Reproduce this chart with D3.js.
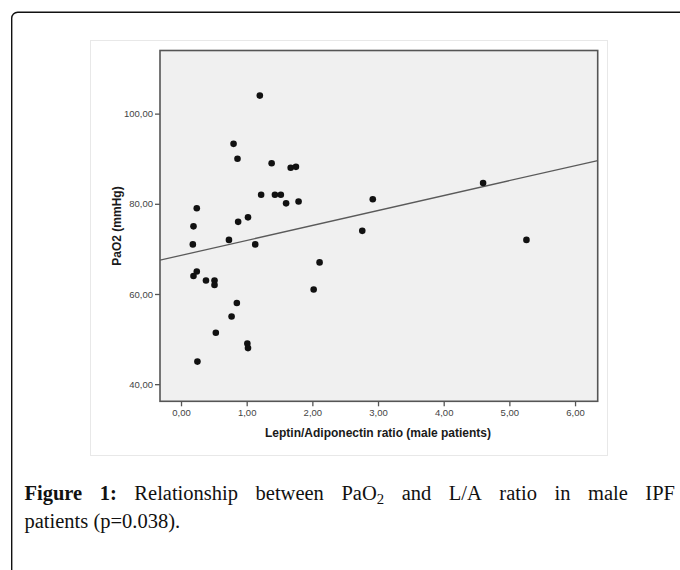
<!DOCTYPE html>
<html>
<head>
<meta charset="utf-8">
<script src="https://cdn.jsdelivr.net/npm/d3@7"></script>
<style>
  html, body { margin: 0; padding: 0; background: #fff; }
  svg { display: block; }
</style>
</head>
<body>
<script>
// ---- Data ----
const ratioLA = [1.20, 0.80, 0.86, 1.38, 1.67, 1.75, 4.60, 1.22, 1.43, 1.52, 1.60, 1.79, 2.92, 0.24, 0.19, 1.02, 0.87, 2.76, 0.18, 0.73, 1.13, 5.26, 2.11, 0.24, 0.19, 0.38, 0.51, 0.51, 2.02, 0.85, 0.77, 0.53, 1.01, 1.02, 0.25];
const paO2    = [104.0, 93.3, 90.0, 89.0, 88.0, 88.2, 84.6, 82.0, 82.0, 82.0, 80.1, 80.5, 81.0, 79.0, 75.0, 77.0, 76.0, 74.0, 71.0, 72.0, 71.0, 72.0, 67.0, 65.0, 64.0, 63.0, 63.0, 62.0, 61.0, 58.0, 55.0, 51.4, 49.0, 48.0, 45.0];
const fitLine = [68.56, 3.316]; // intercept, slope of the fitted line
const xTicks = [0, 1, 2, 3, 4, 5, 6];
const yTicks = [40, 60, 80, 100];
const xTitle = "Leptin/Adiponectin ratio (male patients)";
const yTitle = "PaO2 (mmHg)";
const captionLine1 = ["Relationship", "between", "PaO|2", "and", "L/A", "ratio", "in", "male", "IPF"];
const captionLine2 = "patients (p=0.038).";

// ---- Layout ----
const W = 680, H = 570;
const plot = { left: 160, top: 50.5, right: 597.7, bottom: 401.3 };

const svg = d3.select("body").append("svg").attr("width", W).attr("height", H);

// outer frame (rounded, open to right/bottom)
svg.append("rect")
  .attr("x", 11.7).attr("y", 12.3)
  .attr("width", 720).attr("height", 620)
  .attr("rx", 6).attr("ry", 6)
  .attr("fill", "none").attr("stroke", "#111").attr("stroke-width", 1.4);

// figure panel
svg.append("rect")
  .attr("x", 90.5).attr("y", 40.5).attr("width", 517).attr("height", 415)
  .attr("fill", "#fff").attr("stroke", "#e8e8e8").attr("stroke-width", 1);

const x = d3.scaleLinear().domain([-0.32, 6.345]).range([plot.left, plot.right]);
const y = d3.scaleLinear().domain([36.2, 114]).range([plot.bottom, plot.top]);

// plot background
svg.append("rect")
  .attr("x", plot.left).attr("y", plot.top)
  .attr("width", plot.right - plot.left).attr("height", plot.bottom - plot.top)
  .attr("fill", "#f0f0f0");

const fmt = d => d3.format(".2f")(d).replace(".", ",");

// axes
const gx = svg.append("g").attr("transform", `translate(0,${plot.bottom})`)
  .call(d3.axisBottom(x).tickValues(xTicks).tickFormat(fmt).tickSize(5).tickPadding(3));
const gy = svg.append("g").attr("transform", `translate(${plot.left},0)`)
  .call(d3.axisLeft(y).tickValues(yTicks).tickFormat(fmt).tickSize(5).tickPadding(2));
[gx, gy].forEach(g => {
  g.select(".domain").remove();
  g.selectAll(".tick line").attr("stroke", "#555").attr("stroke-width", 1.3);
  g.selectAll(".tick text")
    .attr("fill", "#444")
    .style("font-family", "'Liberation Sans', Arial, sans-serif")
    .style("font-size", "9.5px");
});

// regression line
const clipId = "plotclip";
svg.append("clipPath").attr("id", clipId).append("rect")
  .attr("x", plot.left).attr("y", plot.top)
  .attr("width", plot.right - plot.left).attr("height", plot.bottom - plot.top);
const xd = x.domain();
svg.append("line")
  .attr("clip-path", `url(#${clipId})`)
  .attr("x1", x(xd[0])).attr("y1", y(fitLine[0] + fitLine[1] * xd[0]))
  .attr("x2", x(xd[1])).attr("y2", y(fitLine[0] + fitLine[1] * xd[1]))
  .attr("stroke", "#5a5a5a").attr("stroke-width", 1.3);

// points
svg.append("g").selectAll("circle")
  .data(ratioLA.map((v, i) => [v, paO2[i]]))
  .join("circle")
  .attr("cx", d => x(d[0])).attr("cy", d => y(d[1]))
  .attr("r", 3.3).attr("fill", "#111");

// plot border
svg.append("rect")
  .attr("x", plot.left).attr("y", plot.top)
  .attr("width", plot.right - plot.left).attr("height", plot.bottom - plot.top)
  .attr("fill", "none").attr("stroke", "#555").attr("stroke-width", 1.6);

// axis titles
svg.append("text")
  .attr("x", 378).attr("y", 437)
  .attr("text-anchor", "middle")
  .style("font-family", "'Liberation Sans', Arial, sans-serif")
  .style("font-size", "12px").style("font-weight", "bold").attr("fill", "#1a1a1a")
  .text(xTitle);
svg.append("text")
  .attr("transform", "translate(121,226) rotate(-90)")
  .attr("text-anchor", "middle")
  .style("font-family", "'Liberation Sans', Arial, sans-serif")
  .style("font-size", "12px").style("font-weight", "bold").attr("fill", "#1a1a1a")
  .text(yTitle);

// caption
const capFont = "'Liberation Serif', 'Times New Roman', serif";
const capSize = 20.5;
const cap = svg.append("g")
  .style("font-family", capFont).style("font-size", capSize + "px").attr("fill", "#111");

const words = [{ t: "Figure", bold: true }, { t: "1:", bold: true }]
  .concat(captionLine1.map(t => ({ t, bold: false })));
const nodes = words.map(w => {
  const txt = cap.append("text").attr("y", 500);
  if (w.bold) txt.style("font-weight", "bold");
  const parts = w.t.split("|");
  txt.append("tspan").text(parts[0]);
  if (parts[1]) {
    txt.append("tspan").attr("dy", 4).style("font-size", (capSize * 0.72) + "px").text(parts[1]);
  }
  return txt;
});
const widths = nodes.map(n => n.node().getComputedTextLength());
const x0 = 24.5, x1 = 675;
const gap = (x1 - x0 - d3.sum(widths)) / (nodes.length - 1);
let cx = x0;
nodes.forEach((n, i) => { n.attr("x", cx); cx += widths[i] + gap; });

cap.append("text").attr("x", x0).attr("y", 528).text(captionLine2);
</script>
</body>
</html>
